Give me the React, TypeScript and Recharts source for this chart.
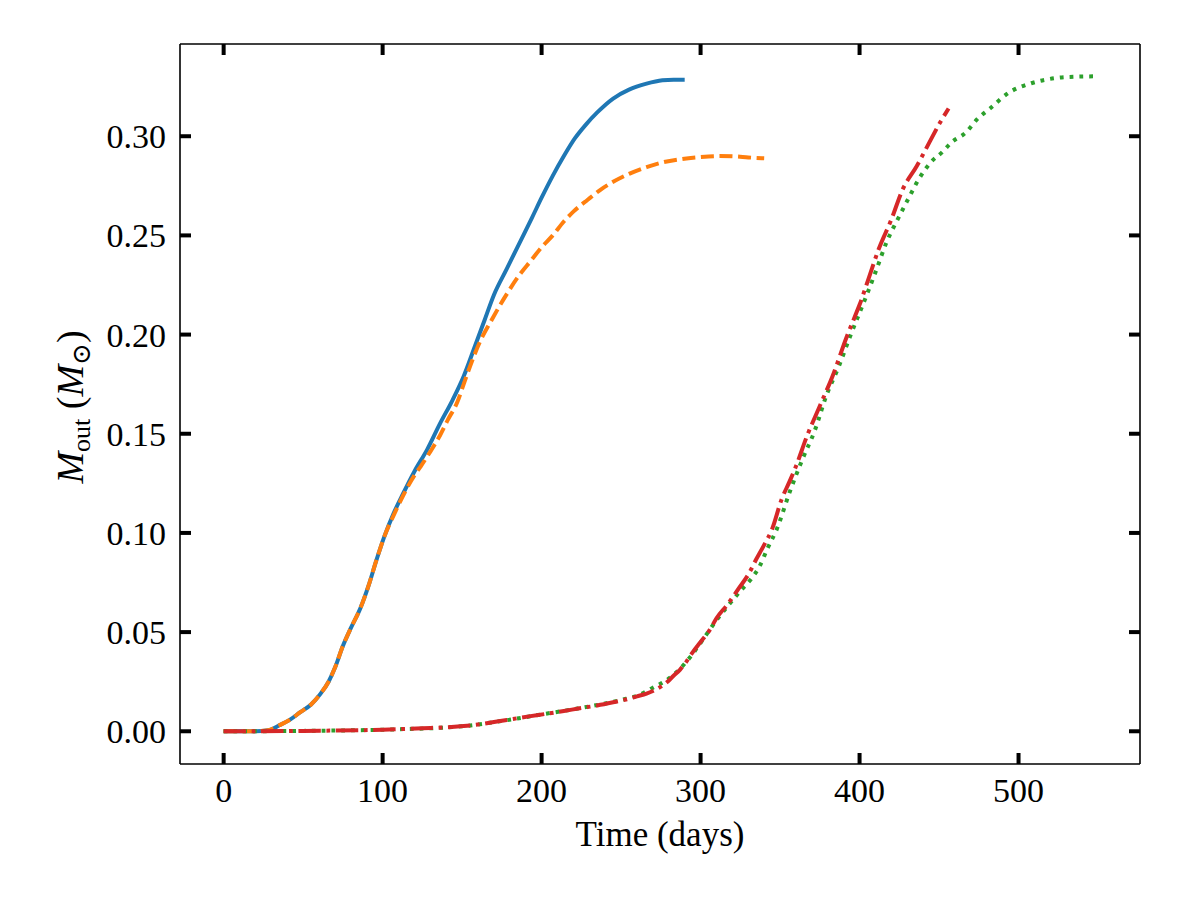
import React from "react";
import { LineChart, Line, XAxis, YAxis } from "recharts";

// Cumulative outflow mass (solar masses) versus time (days) for four runs.
const blueTime = [0, 10, 20, 28, 35, 42, 48, 55, 61, 66, 70, 75, 80, 86, 91, 96, 101, 107, 113, 120, 128, 136, 144, 151, 158, 164, 170, 178, 186, 194, 200, 207, 214, 221, 228, 235, 245, 255, 266, 276, 283, 290];
const blueMass = [0, 0, 0, 0.0005, 0.003, 0.006, 0.0095, 0.0135, 0.019, 0.025, 0.032, 0.043, 0.052, 0.062, 0.073, 0.086, 0.098, 0.11, 0.12, 0.131, 0.142, 0.155, 0.167, 0.179, 0.194, 0.207, 0.22, 0.233, 0.246, 0.259, 0.269, 0.28, 0.29, 0.299, 0.306, 0.312, 0.319, 0.3235, 0.3265, 0.3282, 0.3285, 0.3285];

const orangeTime = [0, 10, 20, 28, 35, 42, 48, 55, 61, 66, 70, 75, 80, 86, 91, 96, 101, 107, 113, 120, 124, 130, 136, 141, 147, 151, 155, 161, 169, 177, 186, 193, 200, 207, 214, 220, 229, 237, 245, 255, 266, 277, 287, 300, 312, 322, 330, 340];
const orangeMass = [0, 0, 0, 0.0005, 0.003, 0.006, 0.0095, 0.0135, 0.019, 0.025, 0.032, 0.043, 0.052, 0.062, 0.073, 0.086, 0.098, 0.109, 0.119, 0.129, 0.1336, 0.141, 0.149, 0.157, 0.166, 0.175, 0.184, 0.196, 0.208, 0.219, 0.23, 0.237, 0.244, 0.25, 0.257, 0.262, 0.268, 0.273, 0.277, 0.281, 0.2844, 0.287, 0.2884, 0.2895, 0.29, 0.2898, 0.2893, 0.2889];

const greenTime = [0, 50, 100, 150, 175, 200, 225, 250, 262, 270, 279, 287, 295, 303, 310, 318, 326, 332, 337, 342, 348, 356, 364, 372, 379, 387, 394, 400, 405, 410, 417, 425, 431, 437, 445, 452, 458, 467, 474, 482, 494, 508, 523, 535, 548];
const greenMass = [0, 0.0002, 0.0008, 0.0025, 0.0052, 0.0085, 0.0118, 0.0158, 0.0185, 0.022, 0.026, 0.0315, 0.039, 0.048, 0.056, 0.064, 0.0716, 0.077, 0.083, 0.092, 0.102, 0.1205, 0.137, 0.152, 0.169, 0.184, 0.199, 0.211, 0.221, 0.2314, 0.2466, 0.2597, 0.269, 0.278, 0.287, 0.292, 0.297, 0.302, 0.3086, 0.314, 0.322, 0.3267, 0.3293, 0.33, 0.3302];

const redTime = [0, 20, 50, 100, 125, 149, 161, 174, 182, 192, 203, 214, 224, 235, 245, 253, 260, 266, 270, 275, 279, 283, 287, 291, 295, 300, 306, 310, 317, 324, 330, 335, 340, 345, 351, 356, 360, 367, 375, 383, 392, 397, 400, 406, 412, 420, 427, 436, 444, 450, 456];
const redMass = [0, 0, 0.0002, 0.0008, 0.0015, 0.0025, 0.0035, 0.0052, 0.0062, 0.0075, 0.0088, 0.0102, 0.0116, 0.013, 0.0146, 0.016, 0.0176, 0.019, 0.0203, 0.0225, 0.0248, 0.028, 0.031, 0.035, 0.0398, 0.045, 0.0514, 0.057, 0.064, 0.072, 0.079, 0.0867, 0.094, 0.102, 0.117, 0.126, 0.1336, 0.149, 0.164, 0.179, 0.199, 0.209, 0.215, 0.229, 0.243, 0.258, 0.273, 0.285, 0.297, 0.306, 0.314];

const xTicks = [0, 100, 200, 300, 400, 500];
const yTicks = [0, 0.05, 0.1, 0.15, 0.2, 0.25, 0.3];

const toRows = (t: number[], m: number[]) => t.map((time, i) => ({ t: time, m: m[i] }));

const FONT = "'Liberation Serif', 'DejaVu Serif', serif";
const TICK_LEN = 11;
const TICK_W = 4;
const LW = 4;
const X_DOMAIN: [number, number] = [-27.45, 576.4];
const Y_DOMAIN: [number, number] = [-0.0165, 0.3465];

const BottomTick = (props: any) => {
  const { x, y, payload } = props;
  return (
    <g>
      <line x1={x} x2={x} y1={y} y2={y - TICK_LEN} stroke="#000" strokeWidth={TICK_W} />
      <text x={x} y={y + 38} textAnchor="middle" fontFamily={FONT} fontSize={34} fill="#000">
        {payload.value}
      </text>
    </g>
  );
};

const TopTick = (props: any) => {
  const { x, y } = props;
  return <line x1={x} x2={x} y1={y} y2={y + TICK_LEN} stroke="#000" strokeWidth={TICK_W} />;
};

const LeftTick = (props: any) => {
  const { x, y, payload } = props;
  return (
    <g>
      <line x1={x} x2={x + TICK_LEN} y1={y} y2={y} stroke="#000" strokeWidth={TICK_W} />
      <text x={x - 14} y={y + 12} textAnchor="end" fontFamily={FONT} fontSize={34} fill="#000">
        {Number(payload.value).toFixed(2)}
      </text>
    </g>
  );
};

const RightTick = (props: any) => {
  const { x, y } = props;
  return <line x1={x} x2={x - TICK_LEN} y1={y} y2={y} stroke="#000" strokeWidth={TICK_W} />;
};

export default function App() {
  const frame = { stroke: "#000", strokeWidth: 1.6 };
  return (
    <div style={{ position: "absolute", left: 0, top: 0, width: 1200, height: 900, background: "#fff" }}>
      <LineChart width={1200} height={900} margin={{ top: 34, right: 50, bottom: 96, left: 120 }}>
        <XAxis
          xAxisId="bottom"
          dataKey="t"
          type="number"
          domain={X_DOMAIN}
          ticks={xTicks}
          allowDataOverflow
          height={40}
          tickSize={0}
          tickMargin={0}
          tickLine={false}
          axisLine={frame}
          tick={<BottomTick />}
          interval={0}
        />
        <XAxis
          xAxisId="top"
          orientation="top"
          dataKey="t"
          type="number"
          domain={X_DOMAIN}
          ticks={xTicks}
          allowDataOverflow
          height={10}
          tickSize={0}
          tickMargin={0}
          tickLine={false}
          axisLine={frame}
          tick={<TopTick />}
          interval={0}
        />
        <YAxis
          yAxisId="left"
          type="number"
          domain={Y_DOMAIN}
          ticks={yTicks}
          allowDataOverflow
          width={60}
          tickSize={0}
          tickMargin={0}
          tickLine={false}
          axisLine={frame}
          tick={<LeftTick />}
          interval={0}
        />
        <YAxis
          yAxisId="right"
          orientation="right"
          type="number"
          domain={Y_DOMAIN}
          ticks={yTicks}
          allowDataOverflow
          width={10}
          tickSize={0}
          tickMargin={0}
          tickLine={false}
          axisLine={frame}
          tick={<RightTick />}
          interval={0}
        />
        <Line
          xAxisId="bottom"
          yAxisId="left"
          data={toRows(blueTime, blueMass)}
          dataKey="m"
          type="monotone"
          stroke="#1f77b4"
          strokeWidth={LW}
          dot={false}
          activeDot={false}
          isAnimationActive={false}
        />
        <Line
          xAxisId="bottom"
          yAxisId="left"
          data={toRows(orangeTime, orangeMass)}
          dataKey="m"
          type="monotone"
          stroke="#ff7f0e"
          strokeWidth={LW}
          strokeDasharray="13 5.6"
          dot={false}
          activeDot={false}
          isAnimationActive={false}
        />
        <Line
          xAxisId="bottom"
          yAxisId="left"
          data={toRows(greenTime, greenMass)}
          dataKey="m"
          type="monotone"
          stroke="#2ca02c"
          strokeWidth={LW}
          strokeDasharray="3.8 6"
          dot={false}
          activeDot={false}
          isAnimationActive={false}
        />
        <Line
          xAxisId="bottom"
          yAxisId="left"
          data={toRows(redTime, redMass)}
          dataKey="m"
          type="monotone"
          stroke="#d62728"
          strokeWidth={LW}
          strokeDasharray="22.4 5.6 3.8 5.6"
          dot={false}
          activeDot={false}
          isAnimationActive={false}
        />
      </LineChart>
      <svg
        width={1200}
        height={900}
        style={{ position: "absolute", left: 0, top: 0, pointerEvents: "none" }}
      >
        <text x={660} y={846} textAnchor="middle" fontFamily={FONT} fontSize={35} fill="#000">
          Time (days)
        </text>
        <text
          transform="translate(83, 407) rotate(-90)"
          textAnchor="middle"
          fontFamily={FONT}
          fontSize={38}
          fill="#000"
        >
          <tspan fontStyle="italic">M</tspan>
          <tspan fontSize={26} dy={7}>out</tspan>
          <tspan dy={-7}>{" ("}</tspan>
          <tspan fontStyle="italic">M</tspan>
          <tspan fontSize={26} dy={7}>⊙</tspan>
          <tspan dy={-7}>)</tspan>
        </text>
      </svg>
    </div>
  );
}
